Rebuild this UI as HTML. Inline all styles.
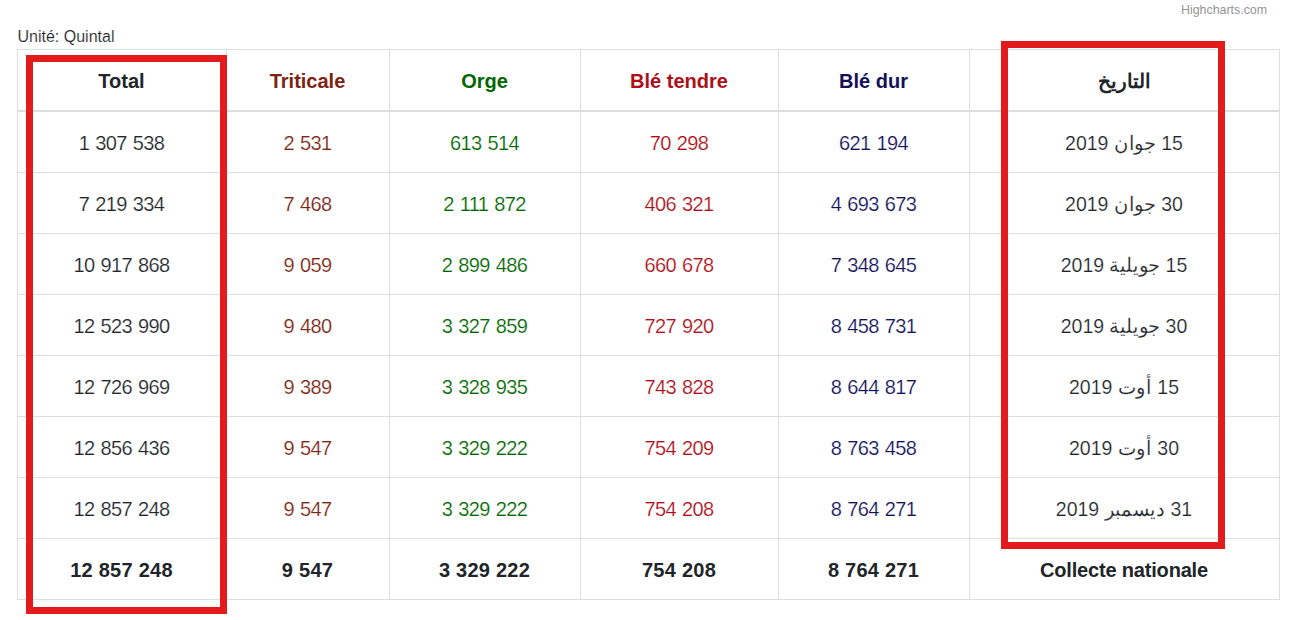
<!DOCTYPE html>
<html><head><meta charset="utf-8"><style>
html,body{margin:0;padding:0;background:#fff;width:1301px;height:620px;overflow:hidden;position:relative}
body{font-family:"Liberation Sans",sans-serif;color:#212529}
.l{position:absolute;background:#dcdee1}
.t{position:absolute;text-align:center;font-size:20px;line-height:30px;white-space:nowrap}
.b{font-weight:bold}
.cn{letter-spacing:-0.18px}
.n{letter-spacing:-0.6px;word-spacing:1px;-webkit-text-stroke:0.2px #fff}
.nb{letter-spacing:0.25px}
.ar{-webkit-text-stroke:0.2px #fff;transform:scaleX(0.975)}
.rb{position:absolute;border:7px solid #e31b1d;box-sizing:border-box}
</style></head><body>

<div style="position:absolute;left:1181px;top:2px;font-size:12.4px;line-height:16px;color:#959595">Highcharts.com</div>
<div style="position:absolute;left:17.5px;top:27px;font-size:16px;line-height:20px;color:#212529;-webkit-text-stroke:0.15px #fff">Unité: Quintal</div>
<div class="l" style="left:17px;top:49px;width:1263px;height:1px"></div>
<div class="l" style="left:17px;top:599px;width:1263px;height:1px"></div>
<div class="l" style="left:17px;top:49px;width:1px;height:551px"></div>
<div class="l" style="left:226px;top:49px;width:1px;height:551px"></div>
<div class="l" style="left:389px;top:49px;width:1px;height:551px"></div>
<div class="l" style="left:580px;top:49px;width:1px;height:551px"></div>
<div class="l" style="left:778px;top:49px;width:1px;height:551px"></div>
<div class="l" style="left:969px;top:49px;width:1px;height:551px"></div>
<div class="l" style="left:1279px;top:49px;width:1px;height:551px"></div>
<div class="l" style="left:17px;top:110px;width:1263px;height:2px"></div>
<div class="l" style="left:17px;top:172px;width:1263px;height:1px"></div>
<div class="l" style="left:17px;top:233px;width:1263px;height:1px"></div>
<div class="l" style="left:17px;top:294px;width:1263px;height:1px"></div>
<div class="l" style="left:17px;top:355px;width:1263px;height:1px"></div>
<div class="l" style="left:17px;top:416px;width:1263px;height:1px"></div>
<div class="l" style="left:17px;top:477px;width:1263px;height:1px"></div>
<div class="l" style="left:17px;top:538px;width:1263px;height:1px"></div>
<div class="t b" style="left:17px;width:209px;top:66px;color:#212529">Total</div>
<div class="t b" style="left:226px;width:163px;top:66px;color:#7b2412">Triticale</div>
<div class="t b" style="left:389px;width:191px;top:66px;color:#006600">Orge</div>
<div class="t b" style="left:580px;width:198px;top:66px;color:#ad0f18">Blé tendre</div>
<div class="t b" style="left:778px;width:191px;top:66px;color:#121159">Blé dur</div>
<div class="t b" style="left:969px;width:310px;top:66px;color:#212529">التاريخ</div>
<div class="t n" style="left:17px;width:209px;top:128px;color:#212529">1 307 538</div>
<div class="t n" style="left:226px;width:163px;top:128px;color:#7b2412">2 531</div>
<div class="t n" style="left:389px;width:191px;top:128px;color:#006600">613 514</div>
<div class="t n" style="left:580px;width:198px;top:128px;color:#ad0f18">70 298</div>
<div class="t n" style="left:778px;width:191px;top:128px;color:#121159">621 194</div>
<div class="t ar" style="left:969px;width:310px;top:128px;color:#212529" dir="rtl">15 جوان 2019</div>
<div class="t n" style="left:17px;width:209px;top:189px;color:#212529">7 219 334</div>
<div class="t n" style="left:226px;width:163px;top:189px;color:#7b2412">7 468</div>
<div class="t n" style="left:389px;width:191px;top:189px;color:#006600">2 111 872</div>
<div class="t n" style="left:580px;width:198px;top:189px;color:#ad0f18">406 321</div>
<div class="t n" style="left:778px;width:191px;top:189px;color:#121159">4 693 673</div>
<div class="t ar" style="left:969px;width:310px;top:189px;color:#212529" dir="rtl">30 جوان 2019</div>
<div class="t n" style="left:17px;width:209px;top:250px;color:#212529">10 917 868</div>
<div class="t n" style="left:226px;width:163px;top:250px;color:#7b2412">9 059</div>
<div class="t n" style="left:389px;width:191px;top:250px;color:#006600">2 899 486</div>
<div class="t n" style="left:580px;width:198px;top:250px;color:#ad0f18">660 678</div>
<div class="t n" style="left:778px;width:191px;top:250px;color:#121159">7 348 645</div>
<div class="t ar" style="left:969px;width:310px;top:250px;color:#212529" dir="rtl">15 جويلية 2019</div>
<div class="t n" style="left:17px;width:209px;top:311px;color:#212529">12 523 990</div>
<div class="t n" style="left:226px;width:163px;top:311px;color:#7b2412">9 480</div>
<div class="t n" style="left:389px;width:191px;top:311px;color:#006600">3 327 859</div>
<div class="t n" style="left:580px;width:198px;top:311px;color:#ad0f18">727 920</div>
<div class="t n" style="left:778px;width:191px;top:311px;color:#121159">8 458 731</div>
<div class="t ar" style="left:969px;width:310px;top:311px;color:#212529" dir="rtl">30 جويلية 2019</div>
<div class="t n" style="left:17px;width:209px;top:372px;color:#212529">12 726 969</div>
<div class="t n" style="left:226px;width:163px;top:372px;color:#7b2412">9 389</div>
<div class="t n" style="left:389px;width:191px;top:372px;color:#006600">3 328 935</div>
<div class="t n" style="left:580px;width:198px;top:372px;color:#ad0f18">743 828</div>
<div class="t n" style="left:778px;width:191px;top:372px;color:#121159">8 644 817</div>
<div class="t ar" style="left:969px;width:310px;top:372px;color:#212529" dir="rtl">15 أوت 2019</div>
<div class="t n" style="left:17px;width:209px;top:433px;color:#212529">12 856 436</div>
<div class="t n" style="left:226px;width:163px;top:433px;color:#7b2412">9 547</div>
<div class="t n" style="left:389px;width:191px;top:433px;color:#006600">3 329 222</div>
<div class="t n" style="left:580px;width:198px;top:433px;color:#ad0f18">754 209</div>
<div class="t n" style="left:778px;width:191px;top:433px;color:#121159">8 763 458</div>
<div class="t ar" style="left:969px;width:310px;top:433px;color:#212529" dir="rtl">30 أوت 2019</div>
<div class="t n" style="left:17px;width:209px;top:494px;color:#212529">12 857 248</div>
<div class="t n" style="left:226px;width:163px;top:494px;color:#7b2412">9 547</div>
<div class="t n" style="left:389px;width:191px;top:494px;color:#006600">3 329 222</div>
<div class="t n" style="left:580px;width:198px;top:494px;color:#ad0f18">754 208</div>
<div class="t n" style="left:778px;width:191px;top:494px;color:#121159">8 764 271</div>
<div class="t ar" style="left:969px;width:310px;top:494px;color:#212529" dir="rtl">31 ديسمبر 2019</div>
<div class="t b nb" style="left:17px;width:209px;top:555px;color:#212529">12 857 248</div>
<div class="t b nb" style="left:226px;width:163px;top:555px;color:#212529">9 547</div>
<div class="t b nb" style="left:389px;width:191px;top:555px;color:#212529">3 329 222</div>
<div class="t b nb" style="left:580px;width:198px;top:555px;color:#212529">754 208</div>
<div class="t b nb" style="left:778px;width:191px;top:555px;color:#212529">8 764 271</div>
<div class="t b cn" style="left:969px;width:310px;top:555px;color:#212529">Collecte nationale</div>
<div class="rb" style="left:26px;top:55px;width:201px;height:559px"></div>
<div class="rb" style="left:1001px;top:41px;width:224px;height:508px"></div>
</body></html>
